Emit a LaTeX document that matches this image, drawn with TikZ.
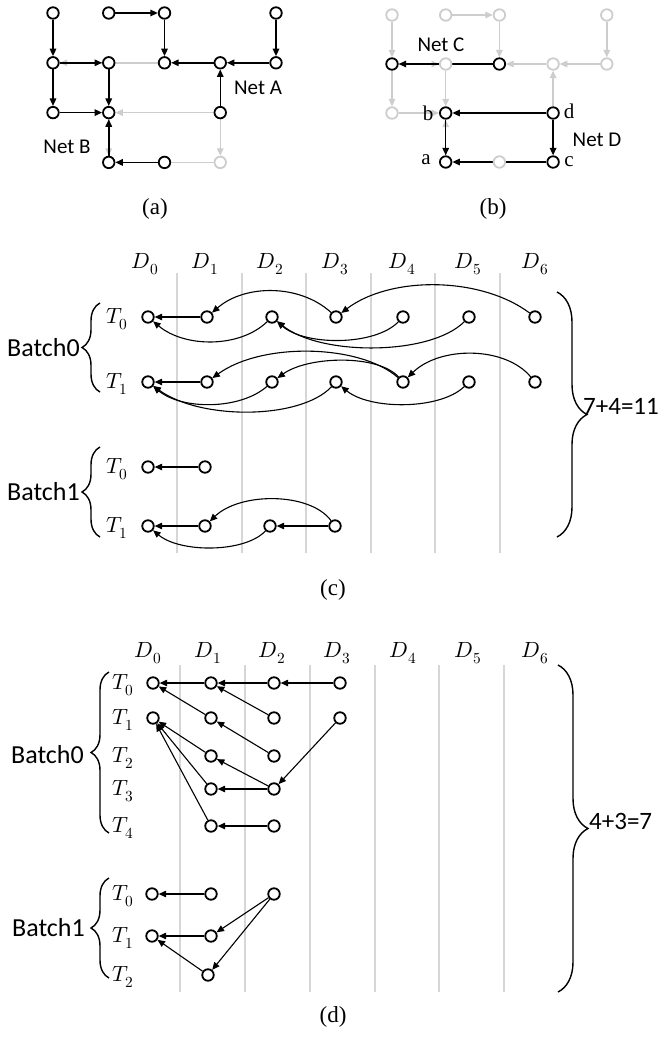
\documentclass[tikz,border=0pt]{standalone}
\usepackage{unicode-math}
\setmainfont{Carlito}
\setmathfont{Latin Modern Math}
\newfontfamily\serifface{Liberation Serif}
\usetikzlibrary{arrows.meta,decorations.pathreplacing}
\pgfdeclarelayer{edges}
\pgfsetlayers{edges,main}
\definecolor{netgray}{RGB}{205,205,205}
\definecolor{sepgray}{RGB}{214,214,214}
\tikzset{
  vtx/.style={circle,draw=black,line width=1.8pt,minimum size=11.5pt,inner sep=0pt,fill=white},
  gvtx/.style={vtx,draw=netgray},
  wire/.style={line width=1.5pt,-{Triangle[length=7.5pt,width=6.5pt]}},
  gwire/.style={wire,draw=netgray},
  dep/.style={line width=1.1pt,-{Triangle[length=7.5pt,width=6.5pt]}},
  sep/.style={draw=sepgray,line width=1.8pt},
  netlbl/.style={font=\fontsize{21}{24}\selectfont,inner sep=0pt},
  pinlbl/.style={font=\serifface\fontsize{21}{24}\selectfont,inner sep=0pt},
  caption/.style={font=\serifface\fontsize{23}{26}\selectfont,inner sep=0pt},
  collbl/.style={font=\fontsize{22}{24}\selectfont,inner sep=0pt},
  rowlbl/.style={font=\fontsize{22}{24}\selectfont,inner sep=0pt},
  batchlbl/.style={font=\fontsize{26}{28}\selectfont,inner sep=0pt,anchor=east},
  sumlbl/.style={font=\fontsize{25}{28}\selectfont,inner sep=0pt,anchor=west},
  bracket/.style={line width=1.4pt,decorate},
}
\begin{document}
\begin{tikzpicture}[x=1pt,y=-1pt]
\useasboundingbox (0,0) rectangle (657,1045);

% ---------------- (a) routing grid, nets A and B ----------------
\foreach \c/\r in {0/0,1/0,2/0,4/0,0/1,1/1,2/1,3/1,4/1,0/2,1/2,3/2,1/3,2/3}
  \node[vtx] (a\c\r) at ({53+55.75*\c},{13+49.8*\r}) {};
\node[gvtx] (a33) at ({53+55.75*3},{13+49.8*3}) {};
\begin{pgfonlayer}{edges}
  \draw[gwire] (a21) -- (a01);
  \draw[gwire] (a32) -- (a12);
  \draw[gwire] (a32) -- (a33);
  \draw[gwire] (a12) -- (a13);
  \draw[gwire] (a33) -- (a13);
  \draw[wire] (a00) -- (a01);
  \draw[wire] (a10) -- (a20);
  \draw[wire] (a20) -- (a21);
  \draw[wire] (a40) -- (a41);
  \draw[wire] (a01) -- (a11);
  \draw[wire] (a01) -- (a02);
  \draw[wire] (a11) -- (a12);
  \draw[wire] (a02) -- (a12);
  \draw[wire] (a41) -- (a31);
  \draw[wire] (a31) -- (a21);
  \draw[wire] (a32) -- (a31);
  \draw[wire] (a13) -- (a12);
  \draw[wire] (a23) -- (a13);
\end{pgfonlayer}
\node[netlbl] (netA) at (258,88) {Net A};
\node[netlbl] (netB) at (67,147) {Net B};
\node[caption] (capa) at (155,209) {(a)};

% ---------------- (b) nets C and D ----------------
\foreach \c/\r in {0/0,1/0,2/0,4/0,1/1,3/1,4/1,0/2,2/3}
  \node[gvtx] (b\c\r) at ({392+53.7*\c},{15+49*\r}) {};
\foreach \c/\r in {0/1,2/1,1/2,3/2,1/3,3/3}
  \node[vtx] (b\c\r) at ({392+53.7*\c},{15+49*\r}) {};
\begin{pgfonlayer}{edges}
  \draw[gwire] (b00) -- (b01);
  \draw[gwire] (b10) -- (b20);
  \draw[gwire] (b20) -- (b21);
  \draw[gwire] (b40) -- (b41);
  \draw[gwire] (b01) -- (b11);
  \draw[gwire] (b01) -- (b02);
  \draw[gwire] (b11) -- (b12);
  \draw[gwire] (b02) -- (b12);
  \draw[gwire] (b41) -- (b31);
  \draw[gwire] (b31) -- (b21);
  \draw[gwire] (b32) -- (b31);
  \draw[gwire] (b13) -- (b12);
  \draw[wire] (b21) -- (b01);
  \draw[wire] (b32) -- (b12);
  \draw[wire] (b12) -- (b13);
  \draw[wire] (b32) -- (b33);
  \draw[wire] (b33) -- (b13);
\end{pgfonlayer}
\node[pinlbl] (pinb) at (428,113) {b};
\node[pinlbl] (pind) at (569,111) {d};
\node[pinlbl] (pina) at (426,160) {a};
\node[pinlbl] (pinc) at (569,162) {c};
\node[netlbl] (netC) at (441,45) {Net C};
\node[netlbl] (netD) at (597,140) {Net D};
\node[caption] (capb) at (493,209) {(b)};

% ---------------- (c) ----------------
\foreach \x in {176.7,241.7,306,370.7,435,500}
  \draw[sep] (\x,273) -- (\x,553);
\foreach \d/\x in {0/145,1/205,2/270,3/335,4/402,5/468,6/535}
  \node[collbl] (cD\d) at (\x,264) {$D_{\d}$};
\foreach \d/\x in {0/148,1/207,2/272,3/336,4/403,5/469,6/535} {
  \node[vtx] (c-0-0-\d) at (\x,317) {};
  \node[vtx] (c-0-1-\d) at (\x,382) {};
}
\node[vtx] (c-1-0-0) at (148,467) {};
\node[vtx] (c-1-0-1) at (205,467) {};
\node[vtx] (c-1-1-0) at (148,526) {};
\node[vtx] (c-1-1-1) at (205,526) {};
\node[vtx] (c-1-1-2) at (270,526) {};
\node[vtx] (c-1-1-3) at (335,526) {};
% batch 0, task 0
\draw[dep] (c-0-0-1) -- (c-0-0-0);
\draw[dep] (c-0-0-2) .. controls (240,348) and (185,348) .. (c-0-0-0);
\draw[dep] (c-0-0-3) .. controls (300,284) and (245,284) .. (c-0-0-1);
\draw[dep] (c-0-0-6) .. controls (480,276) and (390,276) .. (c-0-0-3);
\draw[dep] (c-0-0-4) .. controls (375,346) and (305,346) .. (c-0-0-2);
\draw[dep] (c-0-0-5) .. controls (430,356) and (320,356) .. (c-0-0-2);
% batch 0, task 1
\draw[dep] (c-0-1-1) -- (c-0-1-0);
\draw[dep] (c-0-1-4) .. controls (360,344) and (262,342) .. (c-0-1-1);
\draw[dep] (c-0-1-4) .. controls (378,354) and (308,356) .. (c-0-1-2);
\draw[dep] (c-0-1-6) .. controls (505,346) and (440,346) .. (c-0-1-4);
\draw[dep] (c-0-1-2) .. controls (240,410) and (182,410) .. (c-0-1-0);
\draw[dep] (c-0-1-3) .. controls (300,420) and (200,420) .. (c-0-1-0);
\draw[dep] (c-0-1-5) .. controls (440,410) and (370,410) .. (c-0-1-3);
% batch 1
\draw[dep] (c-1-0-1) -- (c-1-0-0);
\draw[dep] (c-1-1-1) -- (c-1-1-0);
\draw[dep] (c-1-1-3) -- (c-1-1-2);
\draw[dep] (c-1-1-3) .. controls (310,492) and (240,492) .. (c-1-1-1);
\draw[dep] (c-1-1-2) .. controls (245,553) and (180,553) .. (c-1-1-0);
% row labels and braces
\node[rowlbl] (cT00) at (117,319) {$T_0$};
\node[rowlbl] (cT01) at (117,384) {$T_1$};
\node[rowlbl] (cT10) at (117,469) {$T_0$};
\node[rowlbl] (cT11) at (117,528) {$T_1$};
\draw[bracket,decoration={brace,amplitude=18pt}] (100,392) -- (100,303);
\draw[bracket,decoration={brace,amplitude=18pt}] (100,537) -- (100,447);
\node[batchlbl] (cB0) at (80,348) {Batch0};
\node[batchlbl] (cB1) at (80,492) {Batch1};
\draw[bracket,decoration={brace,amplitude=30pt}] (557,292) -- (557,537);
\node[sumlbl] (csum) at (583,406) {7+4=11};
\node[caption] (capc) at (333,590) {(c)};

% ---------------- (d) ----------------
\foreach \x in {180,245,310,375,439,504}
  \draw[sep] (\x,665) -- (\x,992);
\foreach \d/\x in {0/148,1/208,2/272,3/337,4/403,5/468,6/535}
  \node[collbl] (dD\d) at (\x,653) {$D_{\d}$};
\foreach \d/\x in {0/153,1/211,2/274,3/340} {
  \node[vtx] (d-0-0-\d) at (\x,683) {};
  \node[vtx] (d-0-1-\d) at (\x,718) {};
}
\foreach \t/\y in {2/756,3/789,4/826} {
  \node[vtx] (d-0-\t-1) at (211,\y) {};
  \node[vtx] (d-0-\t-2) at (274,\y) {};
}
\node[vtx] (d-1-0-0) at (152,894) {};
\node[vtx] (d-1-0-1) at (211,894) {};
\node[vtx] (d-1-0-2) at (274,894) {};
\node[vtx] (d-1-1-0) at (152,936) {};
\node[vtx] (d-1-1-1) at (211,936) {};
\node[vtx] (d-1-2-1) at (208,975) {};
% batch 0
\draw[dep] (d-0-0-1) -- (d-0-0-0);
\draw[dep] (d-0-0-2) -- (d-0-0-1);
\draw[dep] (d-0-0-3) -- (d-0-0-2);
\draw[dep] (d-0-1-1) -- (d-0-0-0);
\draw[dep] (d-0-1-2) -- (d-0-0-1);
\draw[dep] (d-0-2-2) -- (d-0-1-1);
\draw[dep] (d-0-3-2) -- (d-0-2-1);
\draw[dep] (d-0-3-2) -- (d-0-3-1);
\draw[dep] (d-0-1-3) -- (d-0-3-2);
\draw[dep] (d-0-2-1) -- (d-0-1-0);
\draw[dep] (d-0-3-1) -- (d-0-1-0);
\draw[dep] (d-0-4-1) -- (d-0-1-0);
\draw[dep] (d-0-4-2) -- (d-0-4-1);
% batch 1
\draw[dep] (d-1-0-1) -- (d-1-0-0);
\draw[dep] (d-1-1-1) -- (d-1-1-0);
\draw[dep] (d-1-0-2) -- (d-1-1-1);
\draw[dep] (d-1-0-2) -- (d-1-2-1);
\draw[dep] (d-1-2-1) -- (d-1-1-0);
% row labels and braces
\foreach \t/\y in {0/685,1/720,2/758,3/791,4/828}
  \node[rowlbl] (dT0\t) at (123,\y) {$T_{\t}$};
\foreach \t/\y in {0/896,1/938,2/977}
  \node[rowlbl] (dT1\t) at (123,\y) {$T_{\t}$};
\draw[bracket,decoration={brace,amplitude=18pt}] (109,833) -- (109,672);
\draw[bracket,decoration={brace,amplitude=18pt}] (109,978) -- (109,878);
\node[batchlbl] (dB0) at (84,755) {Batch0};
\node[batchlbl] (dB1) at (85,928) {Batch1};
\draw[bracket,decoration={brace,amplitude=30pt}] (558,665) -- (558,992);
\node[sumlbl] (dsum) at (589,821) {4+3=7};
\node[caption] (capd) at (333,1017) {(d)};
\end{tikzpicture}
\end{document}
